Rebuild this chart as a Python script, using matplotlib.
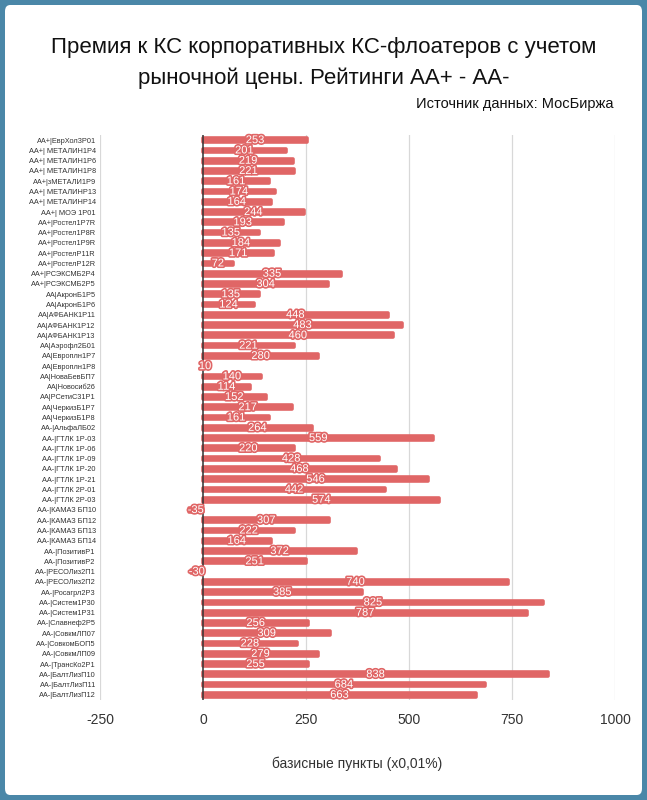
import matplotlib
matplotlib.use("Agg")
import matplotlib.pyplot as plt
import matplotlib.patheffects as pe
from matplotlib.patches import FancyBboxPatch

plt.rcParams['font.family'] = ['Liberation Sans', 'DejaVu Sans']

categories = [
    "AA+|ЕврХол3Р01", "AA+| МЕТАЛИН1Р4", "AA+| МЕТАЛИН1Р6", "AA+| МЕТАЛИН1Р8",
    "AA+|зМЕТАЛИ1Р9", "AA+| МЕТАЛИНР13", "AA+| МЕТАЛИНР14", "AA+| МОЭ 1Р01",
    "AA+|Ростел1Р7R", "AA+|Ростел1Р8R", "AA+|Ростел1Р9R", "AA+|РостелР11R",
    "AA+|РостелР12R", "AA+|РСЭКСМБ2Р4", "AA+|РСЭКСМБ2Р5", "AA|АкронБ1Р5",
    "AA|АкронБ1Р6", "AA|АФБАНК1Р11", "AA|АФБАНК1Р12", "AA|АФБАНК1Р13",
    "AA|Аэрофл2Б01", "AA|Европлн1Р7", "AA|Европлн1Р8", "AA|НоваБевБП7",
    "AA|Новосиб26", "AA|РСетиС31Р1", "AA|ЧеркизБ1Р7", "AA|ЧеркизБ1Р8",
    "AA-|АльфаЛБ02", "AA-|ГТЛК 1Р-03", "AA-|ГТЛК 1Р-06", "AA-|ГТЛК 1Р-09",
    "AA-|ГТЛК 1Р-20", "AA-|ГТЛК 1Р-21", "AA-|ГТЛК 2Р-01", "AA-|ГТЛК 2Р-03",
    "AA-|КАМАЗ БП10", "AA-|КАМАЗ БП12", "AA-|КАМАЗ БП13", "AA-|КАМАЗ БП14",
    "AA-|ПозитивР1", "AA-|ПозитивР2", "AA-|РЕСОЛиз2П1", "AA-|РЕСОЛиз2П2",
    "AA-|Росагрл2Р3", "AA-|Систем1Р30", "AA-|Систем1Р31", "AA-|Славнеф2Р5",
    "AA-|СовкмЛП07", "AA-|СовкомБОП5", "AA-|СовкмЛП09", "AA-|ТрансКо2Р1",
    "AA-|БалтЛизП10", "AA-|БалтЛизП11", "AA-|БалтЛизП12",
]
values = [
    253, 201, 219, 221, 161, 174, 164, 244, 193, 135, 184, 171, 72, 335, 304,
    135, 124, 448, 483, 460, 221, 280, 10, 140, 114, 152, 217, 161,
    264, 559, 220, 428, 468, 546, 442, 574, -35, 307, 222, 164, 372, 251,
    -30, 740, 385, 825, 787, 256, 309, 228, 279, 255, 838, 684, 663,
]
xticks = [-250, 0, 250, 500, 750, 1000]

title = "Премия к КС корпоративных КС-флоатеров с учетом\nрыночной цены. Рейтинги АА+ - АА-"
source = "Источник данных: МосБиржа"
xlabel = "базисные пункты (x0,01%)"

bar_color = "#E06666"
W, H = 647, 800
fig = plt.figure(figsize=(W / 100, H / 100), dpi=100)
fig.patch.set_facecolor("#4a87a8")
fig.add_artist(FancyBboxPatch((5 / W, 5 / H), 1 - 10 / W, 1 - 10 / H,
                              boxstyle="round,pad=0,rounding_size=0.008",
                              transform=fig.transFigure, facecolor="white",
                              edgecolor="none", zorder=-10))

ax = fig.add_axes([100 / W, 1 - 700 / H, 515 / W, 565 / H])
ax.set_facecolor("none")
y = list(range(len(values)))
ax.barh(y, values, height=0.36, color=bar_color, edgecolor=bar_color,
        linewidth=2.6, joinstyle="round", zorder=3)
for yi, v in zip(y, values):
    ax.text(v / 2, yi, str(v), ha="center", va="center", color="white",
            fontsize=8, zorder=5,
            path_effects=[pe.Stroke(linewidth=2.4, foreground=bar_color), pe.Normal()])

ax.set_xlim(-250, 1000)
ax.set_ylim(len(values) - 0.5, -0.5)
ax.set_xticks(xticks)
ax.set_xticklabels([str(t) for t in xticks], fontsize=10, color="#333333")
ax.set_yticks(y)
ax.set_yticklabels(categories, fontsize=5.3, color="#333333")
ax.tick_params(axis="both", length=0)
ax.tick_params(axis="x", pad=9)
ax.tick_params(axis="y", pad=3)
for s in ax.spines.values():
    s.set_visible(False)
for t in xticks:
    if t == 0:
        continue
    ax.axvline(t, color="#d8d8d8", linewidth=0.9, zorder=1)
ax.axvline(0, color="#333333", linewidth=1.1, zorder=4)

ax.set_xlabel(xlabel, fontsize=10, color="#333333", labelpad=22)

fig.text(0.5, 1 - 63 / H, title, ha="center", va="center", fontsize=16,
         color="#111111", linespacing=1.6)
fig.text(614 / W, 1 - 104 / H, source, ha="right", va="center", fontsize=10.5,
         color="#111111")

fig.savefig("out.png", dpi=100, facecolor=fig.get_facecolor())
